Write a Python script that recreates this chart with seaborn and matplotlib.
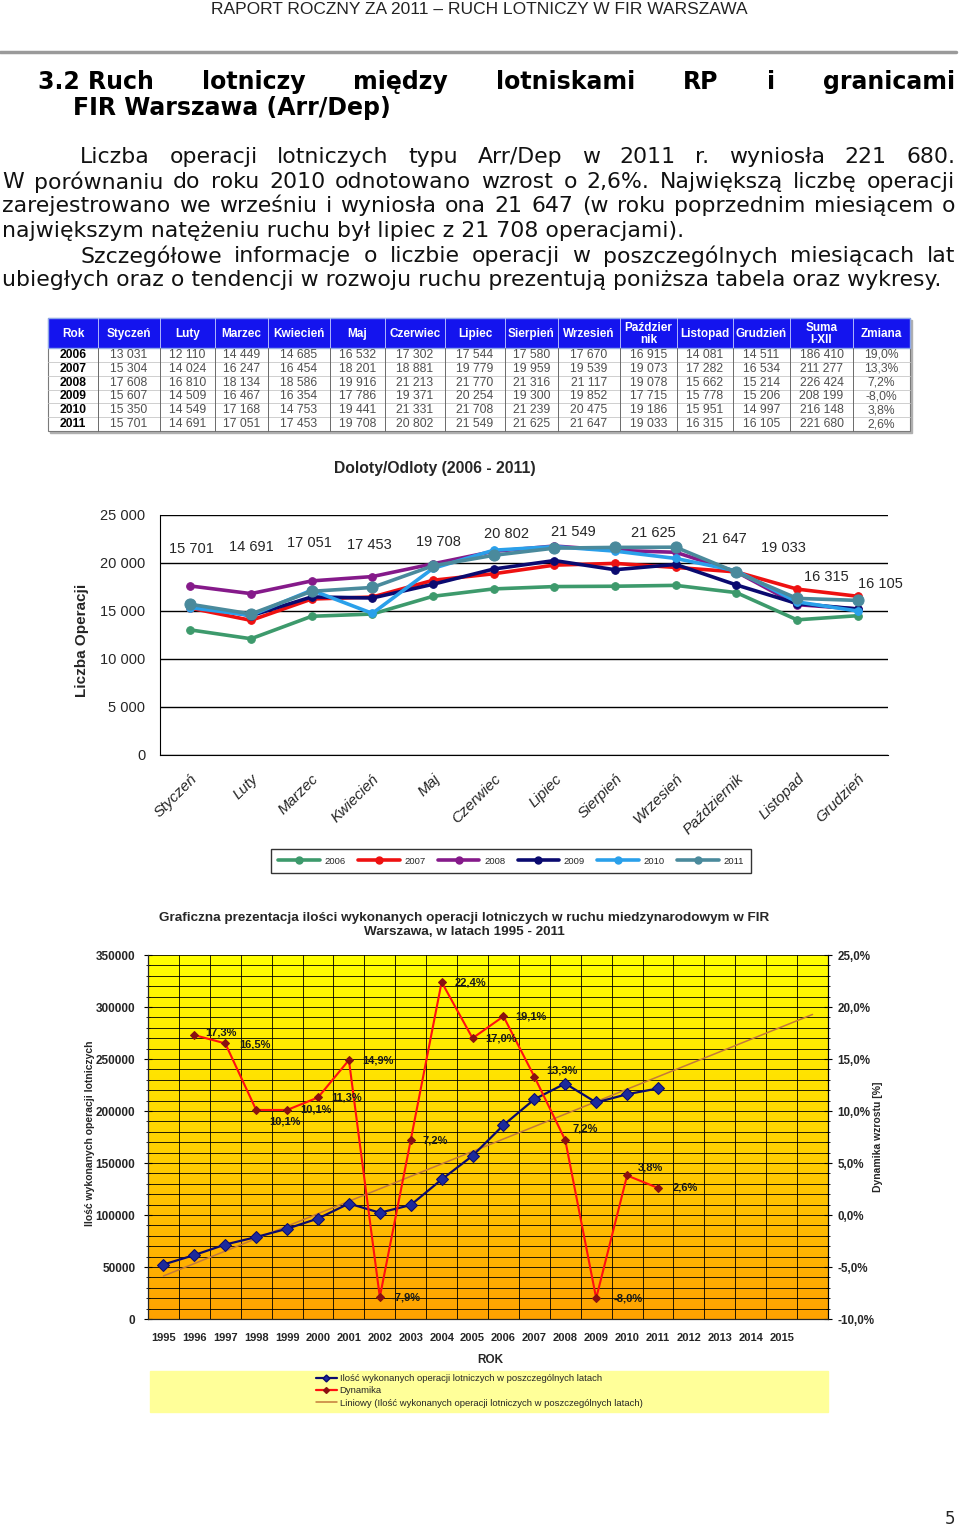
import numpy as np
import pandas as pd
import matplotlib
matplotlib.use("Agg")
import matplotlib.pyplot as plt
from matplotlib.colors import LinearSegmentedColormap
from matplotlib.lines import Line2D
from matplotlib.patches import Rectangle
import seaborn as sns

sns.set_style("white")
plt.rcParams["font.family"] = ["DejaVu Sans"]

# no narrow Arial here, Liberation Sans is the closest
ARIAL = ["Liberation Sans", "DejaVu Sans"]
W, H = 960, 1527

# --- monthly Arr/Dep operations 2006-2011 ---
MONTHS = ["Styczeń", "Luty", "Marzec", "Kwiecień", "Maj", "Czerwiec", "Lipiec",
          "Sierpień", "Wrzesień", "Październik", "Listopad", "Grudzień"]
YEARS = [2006, 2007, 2008, 2009, 2010, 2011]
OPS_2006 = [13031, 12110, 14449, 14685, 16532, 17302, 17544, 17580, 17670, 16915, 14081, 14511]
OPS_2007 = [15304, 14024, 16247, 16454, 18201, 18881, 19779, 19959, 19539, 19073, 17282, 16534]
OPS_2008 = [17608, 16810, 18134, 18586, 19916, 21213, 21770, 21316, 21117, 19078, 15662, 15214]
OPS_2009 = [15607, 14509, 16467, 16354, 17786, 19371, 20254, 19300, 19852, 17715, 15778, 15206]
OPS_2010 = [15350, 14549, 17168, 14753, 19441, 21331, 21708, 21239, 20475, 19186, 15951, 14997]
OPS_2011 = [15701, 14691, 17051, 17453, 19708, 20802, 21549, 21625, 21647, 19033, 16315, 16105]
SUMA = [186410, 211277, 226424, 208199, 216148, 221680]
ZMIANA = ["19,0%", "13,3%", "7,2%", "-8,0%", "3,8%", "2,6%"]
TABLE_HEAD = ["Rok", "Styczeń", "Luty", "Marzec", "Kwiecień", "Maj", "Czerwiec", "Lipiec",
              "Sierpień", "Wrzesień", "Paździer\nnik", "Listopad", "Grudzień", "Suma\nI-XII", "Zmiana"]

# --- yearly totals 1995-2011 and growth ---
YEAR_LABELS = [str(y) for y in range(1995, 2016)] + [""]
OPS_TOTAL = [52400, 61500, 71600, 78800, 86800, 96600, 111000, 102200, 109600,
             134150, 156950, 186410, 211277, 226424, 208199, 216148, 221680]
DYNAMIKA = [17.3, 16.5, 10.1, 10.1, 11.3, 14.9, -7.9, 7.2, 22.4, 17.0, 19.1,
            13.3, 7.2, -8.0, 3.8, 2.6]

# label placement (layout only)
LABEL_POS_2011 = [(0.02, 21450), (1.0, 21650), (1.96, 22080), (2.95, 21870), (4.09, 22180),
                  (5.21, 23020), (6.31, 23230), (7.63, 23120), (8.8, 22500), (9.78, 21560),
                  (10.48, 18540), (11.37, 17810)]
DYN_OFFSETS = [(11, 3), (14, -1), (13, -12), (13, 0), (13, 0), (13, 0), (12, 0), (12, 0),
               (13, 0), (13, 0), (12, 0), (12, 6), (7, 12), (17, 0), (11, 8), (15, 0)]

COLORS = {2006: "#3d9a6c", 2007: "#ee1111", 2008: "#851a8a", 2009: "#0a0a70",
          2010: "#2aa0ea", 2011: "#4a8a9c"}


def fmt_sp(v):
    return f"{v:,}".replace(",", " ")


fig = plt.figure(figsize=(W / 100, H / 100), dpi=100)
page = fig.add_axes([0, 0, 1, 1])
page.set_xlim(0, W)
page.set_ylim(H, 0)
page.axis("off")
renderer = fig.canvas.get_renderer()


def justify(words, x0, x1, y, **kw):
    texts = [page.text(0, y, w, ha="left", va="center", **kw) for w in words]
    widths = [t.get_window_extent(renderer).width for t in texts]
    gap = (x1 - x0 - sum(widths)) / (len(words) - 1)
    x = x0
    for t, w in zip(texts, widths):
        t.set_x(x)
        x += w + gap


# --- page header and text ---
page.text(479, 9, "RAPORT ROCZNY ZA 2011 – RUCH LOTNICZY W FIR WARSZAWA", ha="center",
          va="center", fontsize=12.5, family=ARIAL, color="#222222")
page.plot([0, 956], [52, 52], color="#9a9a9a", lw=2.5)

justify(["3.2 Ruch", "lotniczy", "między", "lotniskami", "RP", "i", "granicami"],
        38, 955, 82, fontsize=17, fontweight="bold", color="black")
page.text(73, 108, "FIR Warszawa (Arr/Dep)", ha="left", va="center", fontsize=17,
          fontweight="bold", color="black")

BODY = dict(fontsize=15.8, color="#111111")
justify("Liczba operacji lotniczych typu Arr/Dep w 2011 r. wyniosła 221 680.".split(" "), 80, 955, 157, **BODY)
justify("W porównaniu do roku 2010 odnotowano wzrost o 2,6%. Największą liczbę operacji".split(" "), 2, 955, 182, **BODY)
justify("zarejestrowano we wrześniu i wyniosła ona 21 647 (w roku poprzednim miesiącem o".split(" "), 2, 955, 206, **BODY)
page.text(2, 231, "największym natężeniu ruchu był lipiec z 21 708 operacjami).", ha="left", va="center", **BODY)
justify("Szczegółowe informacje o liczbie operacji w poszczególnych miesiącach lat".split(" "), 80, 955, 256, **BODY)
page.text(2, 280, "ubiegłych oraz o tendencji w rozwoju ruchu prezentują poniższa tabela oraz wykresy.",
          ha="left", va="center", **BODY)

# --- table ---
COL_X = [48, 98, 160, 215, 268, 330, 385, 445, 505, 558, 620, 677, 733, 790, 853, 910]
TOP, HEAD_B, BOT = 318, 348, 431
page.add_patch(Rectangle((COL_X[0] + 2, TOP + 2), COL_X[-1] - COL_X[0], BOT - TOP, color="#b0b0b0", zorder=1))
page.add_patch(Rectangle((COL_X[0], TOP), COL_X[-1] - COL_X[0], BOT - TOP, facecolor="white",
                         edgecolor="#7a7a7a", lw=0.8, zorder=2))
page.add_patch(Rectangle((COL_X[0], TOP), COL_X[-1] - COL_X[0], HEAD_B - TOP, facecolor="#1414ee",
                         edgecolor="#8fa8e8", lw=1, zorder=2))
row_h = (BOT - HEAD_B) / 6
for i in range(1, 6):
    page.plot([COL_X[0], COL_X[-1]], [HEAD_B + i * row_h] * 2, color="#c8c8c8", lw=0.6, zorder=3)
for x in COL_X[1:-1]:
    page.plot([x, x], [TOP, HEAD_B], color="#c8d0ff", lw=0.6, zorder=3)
    page.plot([x, x], [HEAD_B, BOT], color="#6a6a6a", lw=0.7, zorder=3)
for j, lab in enumerate(TABLE_HEAD):
    cx = (COL_X[j] + COL_X[j + 1]) / 2
    page.text(cx, (TOP + HEAD_B) / 2 + 1, lab, ha="center", va="center", color="white",
              fontsize=8.5, fontweight="bold", family=ARIAL, linespacing=1.05, zorder=4)
OPS = [OPS_2006, OPS_2007, OPS_2008, OPS_2009, OPS_2010, OPS_2011]
for i, yr in enumerate(YEARS):
    cy = HEAD_B + (i + 0.5) * row_h
    cells = [str(yr)] + [fmt_sp(v) for v in OPS[i]] + [fmt_sp(SUMA[i]), ZMIANA[i]]
    for j, c in enumerate(cells):
        cx = (COL_X[j] + COL_X[j + 1]) / 2
        page.text(cx, cy, c, ha="center", va="center", fontsize=8.7, family=ARIAL, zorder=4,
                  color="black" if j == 0 else "#505050", fontweight="bold" if j == 0 else "normal")

# --- chart 1: monthly lines ---
ax1 = fig.add_axes([160 / W, 1 - 755 / H, 728 / W, 240 / H])
month_pos = np.arange(len(MONTHS))
for yr, ops in zip(YEARS, OPS):
    sns.lineplot(x=month_pos, y=ops, ax=ax1, color=COLORS[yr], lw=2.6, marker="o",
                 markersize=8 if yr == 2011 else 5.5, markeredgecolor=COLORS[yr], zorder=3)
for (lx, ly), v in zip(LABEL_POS_2011, OPS_2011):
    ax1.text(lx, ly, fmt_sp(v), ha="center", va="center", fontsize=10.5, family=ARIAL)
ax1.set_xlim(-0.5, 11.5)
ax1.set_ylim(0, 25000)
ax1.set_yticks(range(0, 25001, 5000))
ax1.set_yticklabels([fmt_sp(v) for v in range(0, 25001, 5000)], family=ARIAL, fontsize=10.5)
ax1.set_xticks(month_pos)
ax1.set_xticklabels(MONTHS, rotation=45, ha="right", rotation_mode="anchor", family=ARIAL,
                    fontsize=11, style="italic")
ax1.set_xticks(np.arange(-0.5, 12, 1), minor=True)
ax1.tick_params(axis="x", which="major", length=0, pad=12)
ax1.tick_params(axis="x", which="minor", length=5, direction="out", color="black")
ax1.tick_params(axis="y", length=5, direction="inout", color="black", pad=8)
ax1.grid(axis="y", color="black", lw=1)
for s in ["top", "right"]:
    ax1.spines[s].set_visible(False)
for s in ["left", "bottom"]:
    ax1.spines[s].set_color("black")
ax1.set_xlabel("")
fig.text(82 / W, 1 - 640 / H, "Liczba Operacji", rotation=90, ha="center", va="center",
         fontsize=11, fontweight="bold", family=ARIAL)
fig.text(435 / W, 1 - 468 / H, "Doloty/Odloty (2006 - 2011)", ha="center", va="center",
         fontsize=11.3, fontweight="bold", family=ARIAL)
handles1 = [Line2D([], [], color=COLORS[y], lw=2.6, marker="o", markersize=5) for y in YEARS]
leg1 = fig.legend(handles1, [str(y) for y in YEARS], loc="center", ncol=6,
                  bbox_to_anchor=(511 / W, 1 - 861 / H), prop={"family": ARIAL, "size": 6.8},
                  handlelength=4.4, columnspacing=1.3, frameon=True, fancybox=False,
                  borderpad=0.8, handletextpad=0.5)
leg1.get_frame().set_edgecolor("black")
leg1.get_frame().set_linewidth(1)

# --- chart 2: yearly totals + growth ---
ax2 = fig.add_axes([148 / W, 1 - 1319 / H, 680 / W, 364 / H])
cmap = LinearSegmentedColormap.from_list("yo", ["#ffa200", "#ffd400", "#ffff00"])
ax2.imshow(np.linspace(0, 1, 256).reshape(-1, 1), extent=(-0.5, 21.5, 0, 350000), origin="lower",
           cmap=cmap, aspect="auto", zorder=-1)
yr_pos = np.arange(len(OPS_TOTAL))
coef = np.polyfit(yr_pos, OPS_TOTAL, 1)
trend_x = np.array([0, len(YEAR_LABELS) - 1])
ax2.plot(trend_x, np.polyval(coef, trend_x), color="#c47a3a", lw=1.1, zorder=2)
sns.lineplot(x=yr_pos, y=OPS_TOTAL, ax=ax2, color="#0a0a6e", lw=1.6, marker="D", markersize=6,
             markerfacecolor="#1c2a9c", markeredgecolor="#0a0a6e", zorder=3)
ax2.set_xlim(-0.5, 21.5)
ax2.set_ylim(0, 350000)
ax2.set_yticks(range(0, 350001, 50000))
ax2.set_yticklabels([str(v) for v in range(0, 350001, 50000)], family=ARIAL, fontsize=8.5,
                    fontweight="bold")
ax2.set_yticks(range(0, 350001, 10000), minor=True)
ax2.set_xticks(np.arange(len(YEAR_LABELS)))
ax2.set_xticklabels(YEAR_LABELS, family=ARIAL, fontsize=8, fontweight="bold")
ax2.set_xticks(np.arange(0.5, 21, 1), minor=True)
ax2.tick_params(axis="x", which="major", length=0, pad=10)
ax2.tick_params(axis="x", which="minor", length=4, direction="out", color="black")
ax2.tick_params(axis="y", which="major", length=6, direction="inout", color="black", pad=6)
ax2.tick_params(axis="y", which="minor", length=3, direction="inout", color="black")
ax2.grid(axis="y", which="both", color="black", lw=0.6)
ax2.grid(axis="x", which="minor", color="black", lw=0.6)
ax2.set_axisbelow("line")
for s in ax2.spines.values():
    s.set_color("black")
ax2.spines["top"].set_visible(False)

ax3 = ax2.twinx()
sns.lineplot(x=np.arange(1, len(DYNAMIKA) + 1), y=DYNAMIKA, ax=ax3, color="#ff1010", lw=1.5,
             marker="D", markersize=4, markerfacecolor="#8a1010", markeredgecolor="#8a1010")
for i, (v, (dx, dy)) in enumerate(zip(DYNAMIKA, DYN_OFFSETS)):
    ax3.annotate(f"{v:.1f}%".replace(".", ","), (i + 1, v), xytext=(dx * 0.72, dy * 0.72),
                 textcoords="offset points", ha="left", va="center", fontsize=8,
                 fontweight="bold", family=ARIAL, color="#1a1a1a")
ax3.set_ylim(-10, 25)
ax3.set_yticks(range(-10, 26, 5))
ax3.set_yticklabels([f"{v:.1f}%".replace(".", ",") for v in range(-10, 26, 5)], family=ARIAL,
                    fontsize=8.4, fontweight="bold")
ax3.set_yticks(range(-10, 26, 1), minor=True)
ax3.tick_params(axis="y", which="major", length=6, direction="inout", color="black", pad=4)
ax3.tick_params(axis="y", which="minor", length=3, direction="inout", color="black")
ax3.spines["top"].set_visible(False)
ax3.spines["right"].set_color("black")

fig.text(464 / W, 1 - 925 / H,
         "Graficzna prezentacja ilości wykonanych operacji lotniczych w ruchu miedzynarodowym w FIR\nWarszawa, w latach 1995 - 2011",
         ha="center", va="center", fontsize=9.7, fontweight="bold", family=ARIAL, linespacing=1.15)
fig.text(90 / W, 1 - 1133 / H, "Ilość wykonanych operacji lotniczych", rotation=90, ha="center",
         va="center", fontsize=7.5, fontweight="bold", family=ARIAL)
fig.text(878 / W, 1 - 1137 / H, "Dynamika wzrostu [%]", rotation=90, ha="center", va="center",
         fontsize=7.5, fontweight="bold", family=ARIAL)
fig.text(490 / W, 1 - 1360 / H, "ROK", ha="center", va="center", fontsize=8.5, fontweight="bold",
         family=ARIAL)

page.add_patch(Rectangle((150, 1371), 678, 41, color="#ffff99", zorder=1))
handles2 = [Line2D([], [], color="#0a0a6e", lw=1.6, marker="D", markersize=3.5, markerfacecolor="#1c2a9c"),
            Line2D([], [], color="#ff1010", lw=1.6, marker="D", markersize=3, markerfacecolor="#8a1010",
                   markeredgecolor="#8a1010"),
            Line2D([], [], color="#c47a3a", lw=1.1)]
fig.legend(handles2, ["Ilość wykonanych operacji lotniczych w poszczególnych latach", "Dynamika",
                      "Liniowy (Ilość wykonanych operacji lotniczych w poszczególnych latach)"],
           loc="upper left", bbox_to_anchor=(316 / W, 1 - 1374 / H), frameon=False,
           prop={"family": ARIAL, "size": 6.8}, handlelength=2.2, handletextpad=0.3,
           labelspacing=0.35, borderpad=0, borderaxespad=0)

page.text(950, 1519, "5", ha="center", va="center", fontsize=12)

fig.savefig("out.png", dpi=100)
